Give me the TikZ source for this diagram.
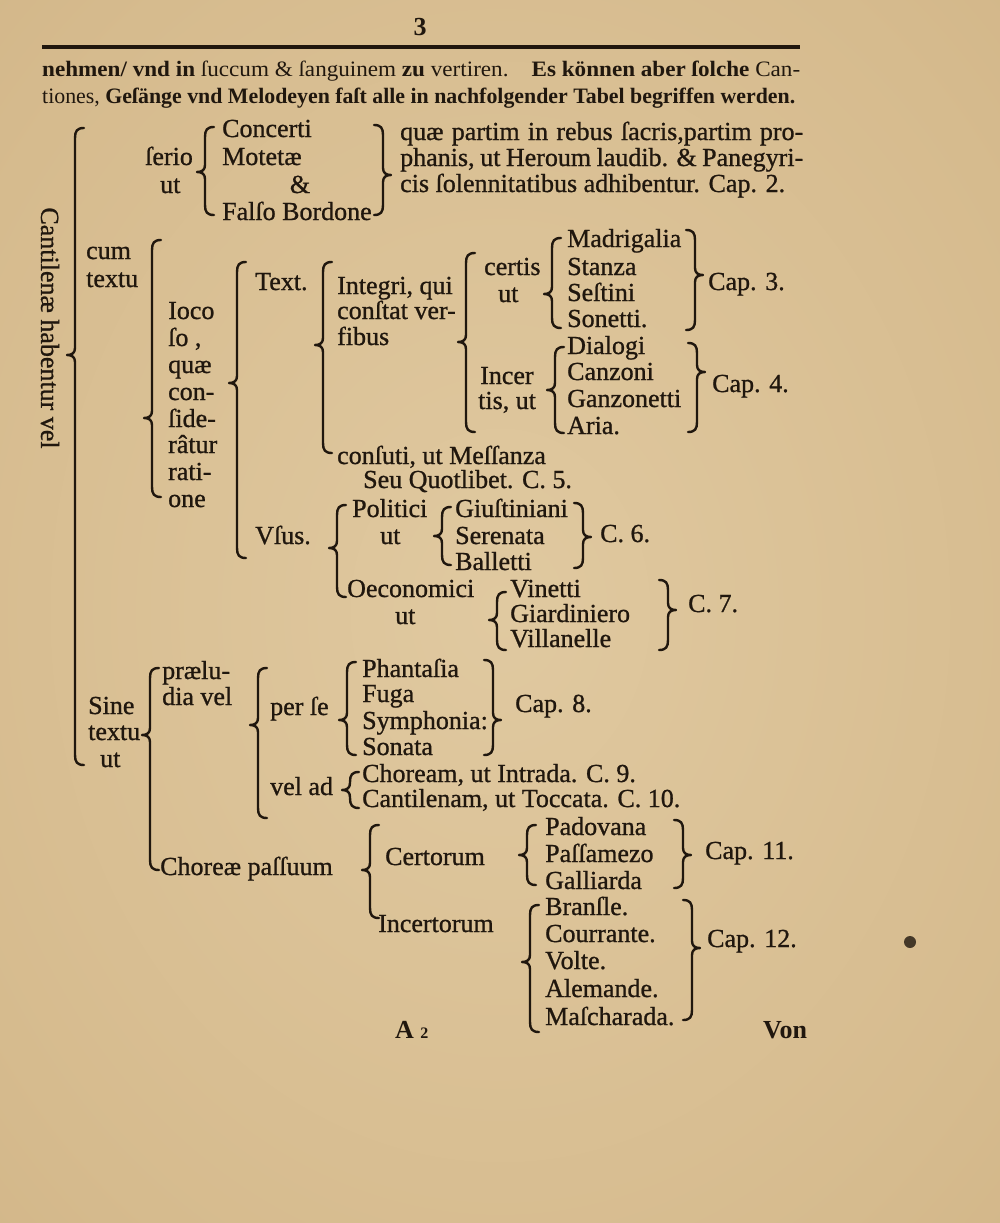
\documentclass[tikz,border=0pt]{standalone}
\usepackage{fontspec}
\setmainfont{Liberation Serif}
\usepackage{graphicx}
\definecolor{ink}{RGB}{32,23,14}
\definecolor{paperin}{RGB}{224,201,160}
\definecolor{papermid}{RGB}{214,187,142}
\definecolor{paperout}{RGB}{192,160,112}
\pgfdeclareradialshading{paper}{\pgfpoint{0bp}{0bp}}{color(0bp)=(paperin); color(30bp)=(papermid); color(74bp)=(paperout)}
\newcommand\fs{\fontsize{26}{30}\selectfont\addfontfeature{FakeBold=0.9}}
\newcommand\hs{\fontsize{22}{24}\selectfont}
\tikzset{
  lbl/.style={anchor=base west, inner sep=0pt, text=ink, font=\fs},
  clbl/.style={anchor=base, inner sep=0pt, text=ink, font=\fs},
  brc/.style={draw=ink, line width=2.4pt, line cap=round, line join=round},
}
% brace opening to the right, tip to the left: x, top, bottom, tip
\newcommand\LBr[4]{\draw[brc] ({#1+9},#2) .. controls ({#1+2},#2) and (#1,{#2+3}) .. (#1,{#2+10}) -- (#1,{#4-7}) .. controls (#1,{#4-2}) and ({#1-3},#4) .. ({#1-8},#4) .. controls ({#1-3},#4) and (#1,{#4+2}) .. (#1,{#4+7}) -- (#1,{#3-10}) .. controls (#1,{#3-3}) and ({#1+2},#3) .. ({#1+9},#3);}
% brace opening to the left, tip to the right
\newcommand\RBr[4]{\draw[brc] ({#1-9},#2) .. controls ({#1-2},#2) and (#1,{#2+3}) .. (#1,{#2+10}) -- (#1,{#4-7}) .. controls (#1,{#4-2}) and ({#1+3},#4) .. ({#1+8},#4) .. controls ({#1+3},#4) and (#1,{#4+2}) .. (#1,{#4+7}) -- (#1,{#3-10}) .. controls (#1,{#3-3}) and ({#1-2},#3) .. ({#1-9},#3);}
\begin{document}
\begin{tikzpicture}[x=1pt,y=-1pt]
\useasboundingbox (0,0) rectangle (1000,1223);
\shade[shading=paper] (0,0) rectangle (1000,1223);

% header
\node[clbl, font=\fontsize{26}{30}\selectfont\bfseries] (pagenum) at (420,36) {3};
\draw[ink, line width=3.5pt] (42,47) -- (800,47);
\node[lbl, font=\hs] (hl1) at (42,77) {\resizebox{758pt}{\height}{{\bfseries nehmen/ vnd in} ſuccum \& ſanguinem {\bfseries zu} vertiren.\quad {\bfseries Es können aber ſolche} Can-}};
\node[lbl, font=\hs] (hl2) at (42,103) {\resizebox{753pt}{\height}{tiones, {\bfseries Geſänge vnd Melodeyen faſt alle in nachfolgender Tabel begriffen werden.}}};

% outer brace and rotated label
\LBr{75}{128}{765}{355}
\node[text=ink, font=\fs, inner sep=0pt, rotate=-90] (cant) at (50,328) {Cantilenæ habentur vel};
\node[lbl] (cum) at (86,259) {cum};
\node[lbl] (textu) at (86,287) {textu};

% serio
\node[lbl] (serio) at (145,165) {ſerio};
\node[lbl] (serut) at (160,193) {ut};
\LBr{205}{127}{215}{172}
\node[lbl] (concerti) at (222,137) {Concerti};
\node[lbl] (motetae) at (222,165) {Motetæ};
\node[clbl] (et) at (300,193) {\&};
\node[lbl] (falso) at (222,220) {Falſo Bordone};
\RBr{383}{125}{215}{175}
\node[lbl] (quae1) at (400,140) {\makebox[403pt][s]{quæ partim in rebus ſacris,partim pro-}};
\node[lbl] (quae2) at (400,166) {\makebox[403pt][s]{phanis, ut Heroum laudib. \& Panegyri-}};
\node[lbl] (quae3) at (400,192) {cis ſolennitatibus adhibentur. Cap. 2.};

% ioco
\LBr{152}{240}{497}{418}
\node[lbl] (io1) at (168,319) {Ioco};
\node[lbl] (io2) at (168,346) {ſo ,};
\node[lbl] (io3) at (168,373) {quæ};
\node[lbl] (io4) at (168,400) {con-};
\node[lbl] (io5) at (168,427) {ſide-};
\node[lbl] (io6) at (168,453) {râtur};
\node[lbl] (io7) at (168,480) {rati-};
\node[lbl] (io8) at (168,507) {one};

\LBr{237}{262}{558}{383}
\node[lbl] (text) at (255,290) {Text.};
\LBr{323}{262}{453}{345}
\node[lbl] (integri) at (337,294) {Integri, qui};
\node[lbl] (constat) at (337,319) {conſtat ver-};
\node[lbl] (fibus) at (337,345) {fibus};
\node[lbl] (confuti) at (337,464) {conſuti, ut Meſſanza};
\node[lbl] (seu) at (363,488) {Seu Quotlibet. C. 5.};

\LBr{466}{253}{432}{342}
\node[lbl] (certis) at (484,275) {certis};
\node[lbl] (certut) at (498,302) {ut};
\node[lbl] (incer) at (480,384) {Incer};
\node[lbl] (tisut) at (478,409) {tis, ut};
\LBr{552}{238}{328}{294}
\node[lbl] (madr) at (567,247) {Madrigalia};
\node[lbl] (stanza) at (567,275) {Stanza};
\node[lbl] (sestini) at (567,301) {Seſtini};
\node[lbl] (sonetti) at (567,327) {Sonetti.};
\RBr{695}{230}{330}{275}
\node[lbl] (cap3) at (708,290) {Cap. 3.};
\LBr{555}{347}{433}{390}
\node[lbl] (dialogi) at (567,354) {Dialogi};
\node[lbl] (canzoni) at (567,380) {Canzoni};
\node[lbl] (ganz) at (567,407) {Ganzonetti};
\node[lbl] (aria) at (567,434) {Aria.};
\RBr{697}{343}{432}{372}
\node[lbl] (cap4) at (712,392) {Cap. 4.};

% usus
\node[lbl] (vsus) at (255,544) {Vſus.};
\LBr{337}{505}{597}{548}
\node[lbl] (politici) at (352,517) {Politici};
\node[lbl] (polut) at (380,544) {ut};
\LBr{442}{507}{565}{536}
\node[lbl] (giust) at (455,517) {Giuſtiniani};
\node[lbl] (seren) at (455,544) {Serenata};
\node[lbl] (ballet) at (455,570) {Balletti};
\RBr{583}{503}{568}{537}
\node[lbl] (c6) at (600,542) {C. 6.};
\node[lbl] (oecon) at (347,597) {Oeconomici};
\node[lbl] (oecut) at (395,624) {ut};
\LBr{497}{592}{650}{620}
\node[lbl] (vinetti) at (510,597) {Vinetti};
\node[lbl] (giard) at (510,622) {Giardiniero};
\node[lbl] (villan) at (510,647) {Villanelle};
\RBr{668}{580}{650}{610}
\node[lbl] (c7) at (688,612) {C. 7.};

% sine textu
\node[lbl] (sine) at (88,714) {Sine};
\node[lbl] (stextu) at (88,740) {textu};
\node[lbl] (sut) at (100,767) {ut};
\LBr{150}{668}{870}{735}
\node[lbl] (prael) at (162,679) {prælu-};
\node[lbl] (diavel) at (162,705) {dia vel};
\LBr{258}{668}{818}{725}
\node[lbl] (perse) at (270,715) {per ſe};
\node[lbl] (velad) at (270,795) {vel ad};
\LBr{347}{662}{755}{720}
\node[lbl] (phant) at (362,677) {Phantaſia};
\node[lbl] (fuga) at (362,702) {Fuga};
\node[lbl] (symph) at (362,729) {Symphonia:};
\node[lbl] (sonata) at (362,755) {Sonata};
\RBr{493}{660}{755}{720}
\node[lbl] (cap8) at (515,712) {Cap. 8.};
\LBr{350}{772}{808}{790}
\node[lbl] (choream) at (362,782) {Choream, ut Intrada. C. 9.};
\node[lbl] (cantil) at (362,807) {Cantilenam, ut Toccata. C. 10.};

% choreae
\node[lbl] (chor) at (160,875) {Choreæ paſſuum};
\LBr{370}{825}{918}{870}
\node[lbl] (certorum) at (385,865) {Certorum};
\node[lbl] (incertorum) at (378,932) {Incertorum};
\LBr{527}{825}{885}{855}
\node[lbl] (padov) at (545,835) {Padovana};
\node[lbl] (passam) at (545,862) {Paſſamezo};
\node[lbl] (galli) at (545,889) {Galliarda};
\RBr{683}{820}{888}{855}
\node[lbl] (cap11) at (705,859) {Cap. 11.};
\LBr{530}{905}{1032}{962}
\node[lbl] (bransle) at (545,915) {Branſle.};
\node[lbl] (courr) at (545,942) {Courrante.};
\node[lbl] (volte) at (545,969) {Volte.};
\node[lbl] (alem) at (545,997) {Alemande.};
\node[lbl] (masch) at (545,1025) {Maſcharada.};
\RBr{692}{900}{1020}{948}
\node[lbl] (cap12) at (707,947) {Cap. 12.};

% footer
\node[lbl, font=\fontsize{26}{30}\selectfont\bfseries] (sig) at (395,1038) {A {\fontsize{16}{18}\selectfont 2}};
\node[lbl, font=\fontsize{26}{30}\selectfont\bfseries] (von) at (763,1038) {Von};
\fill[ink, opacity=0.8] (910,942) circle (6);
\end{tikzpicture}
\end{document}
